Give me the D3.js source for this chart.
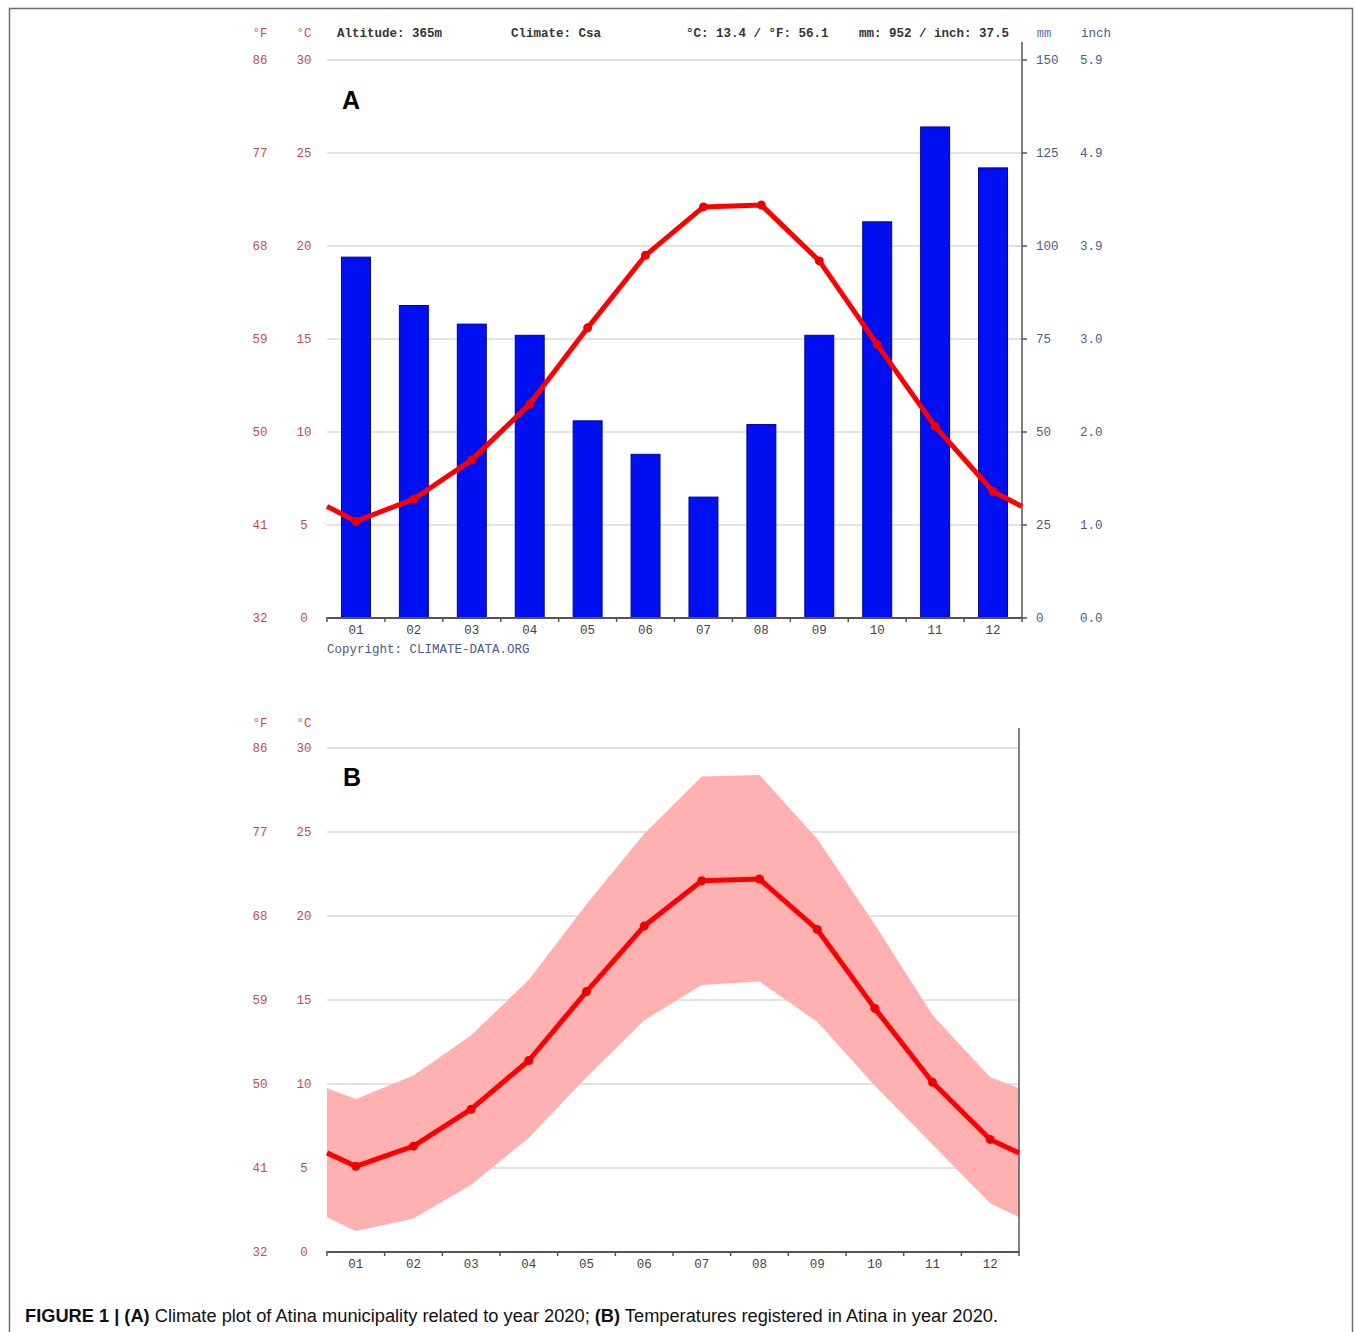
<!DOCTYPE html>
<html>
<head>
<meta charset="utf-8">
<script src="https://cdn.jsdelivr.net/npm/d3@7"></script>
<style>
  body { margin: 0; background: #fff; }
  svg { display: block; }
  .mono { font-family: "Liberation Mono", "DejaVu Sans Mono", monospace; }
</style>
</head>
<body>
<div id="chart"></div>
<script>
// ---- data ----
const months = ["01", "02", "03", "04", "05", "06", "07", "08", "09", "10", "11", "12"];
const precipMm = [97, 84, 79, 76, 53, 44, 32.5, 52, 76, 106.5, 132, 121];
const tempMeanA = [5.2, 6.4, 8.5, 11.5, 15.6, 19.5, 22.1, 22.2, 19.2, 14.7, 10.3, 6.8];
const tempMeanB = [5.1, 6.3, 8.5, 11.4, 15.5, 19.4, 22.1, 22.2, 19.2, 14.5, 10.1, 6.7];
const tempMaxB = [9.1, 10.5, 12.9, 16.2, 20.7, 24.9, 28.3, 28.4, 24.6, 19.5, 14.1, 10.4];
const tempMinB = [1.25, 2.0, 4.0, 6.8, 10.4, 13.8, 15.9, 16.1, 13.7, 9.9, 6.4, 2.9];
const tempTicks = [0, 5, 10, 15, 20, 25, 30];
const precipTicks = [0, 25, 50, 75, 100, 125, 150];
const headerItems = ["Altitude: 365m", "Climate: Csa", "°C: 13.4 / °F: 56.1", "mm: 952 / inch: 37.5"];
const caption = [
  { t: "FIGURE 1 | (A)", b: true },
  { t: " Climate plot of Atina municipality related to year 2020; ", b: false },
  { t: "(B)", b: true },
  { t: " Temperatures registered in Atina in year 2020.", b: false }
];

const W = 1355, H = 1332;
const tempColor = "#c84b4b";
const blueText = "#4a5a8c";
const gridColor = "#dadada";

const svg = d3.select('#chart').append('svg')
  .attr('width', W).attr('height', H)
  .attr('viewBox', `0 0 ${W} ${H}`);

// outer frame
svg.append('rect')
  .attr('x', 9.5).attr('y', 8.5)
  .attr('width', 1343).attr('height', 1340)
  .attr('fill', 'none').attr('stroke', '#6e6e6e').attr('stroke-width', 1.5);

const toF = c => Math.round(c * 9 / 5 + 32);
const toInch = d3.format('.1f');

// wraps the series so the line runs to both edges (Dec/Jan midpoint)
function withEdges(values, x) {
  const edge = (values[0] + values[values.length - 1]) / 2;
  const pts = [{ px: x.range()[0], v: edge }];
  values.forEach((v, i) => pts.push({ px: x(months[i]) + x.bandwidth() / 2, v: v }));
  pts.push({ px: x.range()[1], v: edge });
  return pts;
}

function drawTempAxis(g, y, x) {
  g.selectAll('.grid')
    .data(tempTicks)
    .enter().append('line')
    .attr('x1', x.range()[0]).attr('x2', x.range()[1])
    .attr('y1', d => y(d)).attr('y2', d => y(d))
    .attr('stroke', d => d === 0 ? 'none' : gridColor)
    .attr('stroke-width', 1.5);

  g.selectAll('.tc')
    .data(tempTicks)
    .enter().append('text')
    .attr('class', 'mono')
    .attr('x', 304).attr('y', d => y(d) + 4)
    .attr('text-anchor', 'middle')
    .attr('font-size', 12.5).attr('fill', tempColor)
    .text(d => d);

  g.selectAll('.tf')
    .data(tempTicks)
    .enter().append('text')
    .attr('class', 'mono')
    .attr('x', 260).attr('y', d => y(d) + 4)
    .attr('text-anchor', 'middle')
    .attr('font-size', 12.5).attr('fill', tempColor)
    .text(d => toF(d));
}

function drawXAxis(g, x, y0) {
  const r = x.range();
  g.append('line')
    .attr('x1', r[0]).attr('x2', r[1])
    .attr('y1', y0).attr('y2', y0)
    .attr('stroke', '#555').attr('stroke-width', 2);

  const bounds = months.map(m => x(m)).concat([r[1]]);
  g.selectAll('.xt')
    .data(bounds)
    .enter().append('line')
    .attr('x1', d => d).attr('x2', d => d)
    .attr('y1', y0 - 1).attr('y2', y0 + 4)
    .attr('stroke', '#555').attr('stroke-width', 1.5);

  g.selectAll('.xl')
    .data(months)
    .enter().append('text')
    .attr('class', 'mono')
    .attr('x', d => x(d) + x.bandwidth() / 2)
    .attr('y', y0 + 16)
    .attr('text-anchor', 'middle')
    .attr('font-size', 12.5).attr('fill', '#444')
    .text(d => d);
}

function drawTempLine(g, pts, y) {
  const line = d3.line().x(d => d.px).y(d => y(d.v));
  g.append('path')
    .datum(pts)
    .attr('d', line)
    .attr('fill', 'none')
    .attr('stroke', '#ff0000')
    .attr('stroke-width', 5)
    .attr('stroke-linejoin', 'round');

  g.selectAll('.dot')
    .data(pts.slice(1, -1))
    .enter().append('circle')
    .attr('cx', d => d.px).attr('cy', d => y(d.v))
    .attr('r', 4.5)
    .attr('fill', '#ee0000');
}

// ================= Chart A =================
const gA = svg.append('g');
const xA = d3.scaleBand().domain(months).range([327, 1022]);
const yA = d3.scaleLinear().domain([0, 30]).range([618, 60]);
const yP = d3.scaleLinear().domain([0, 150]).range([618, 60]);

// header
gA.append('text').attr('class', 'mono').attr('x', 260).attr('y', 37)
  .attr('text-anchor', 'middle').attr('font-size', 12.5).attr('fill', tempColor).text('°F');
gA.append('text').attr('class', 'mono').attr('x', 304).attr('y', 37)
  .attr('text-anchor', 'middle').attr('font-size', 12.5).attr('fill', tempColor).text('°C');
const headerX = [337, 511, 686, 859];
gA.selectAll('.hdr')
  .data(headerItems)
  .enter().append('text')
  .attr('class', 'mono')
  .attr('x', (d, i) => headerX[i]).attr('y', 37)
  .attr('font-size', 12.5).attr('font-weight', 'bold').attr('fill', '#333')
  .text(d => d);
gA.append('text').attr('class', 'mono').attr('x', 1044).attr('y', 37)
  .attr('text-anchor', 'middle').attr('font-size', 12).attr('fill', '#5a6cc8').text('mm');
gA.append('text').attr('class', 'mono').attr('x', 1096).attr('y', 37)
  .attr('text-anchor', 'middle').attr('font-size', 12.5).attr('fill', blueText).text('inch');

drawTempAxis(gA, yA, xA);

// bars
const barW = xA.bandwidth() * 0.5;
gA.selectAll('.bar')
  .data(precipMm)
  .enter().append('rect')
  .attr('x', (d, i) => xA(months[i]) + (xA.bandwidth() - barW) / 2)
  .attr('y', d => yP(d))
  .attr('width', barW)
  .attr('height', d => yP(0) - yP(d))
  .attr('fill', '#0010f0')
  .attr('stroke', '#0000a0')
  .attr('stroke-width', 1);

// right precipitation axis
gA.append('line')
  .attr('x1', 1022).attr('x2', 1022).attr('y1', 42).attr('y2', 618)
  .attr('stroke', '#555').attr('stroke-width', 1.5);
gA.selectAll('.pt')
  .data(precipTicks)
  .enter().append('line')
  .attr('x1', 1022).attr('x2', 1027)
  .attr('y1', d => yP(d)).attr('y2', d => yP(d))
  .attr('stroke', '#555').attr('stroke-width', 1.5);
gA.selectAll('.pmm')
  .data(precipTicks)
  .enter().append('text')
  .attr('class', 'mono')
  .attr('x', 1036).attr('y', d => yP(d) + 4)
  .attr('font-size', 12.5).attr('fill', blueText)
  .text(d => d);
gA.selectAll('.pin')
  .data(precipTicks)
  .enter().append('text')
  .attr('class', 'mono')
  .attr('x', 1080).attr('y', d => yP(d) + 4)
  .attr('font-size', 12.5).attr('fill', blueText)
  .text(d => toInch(d / 25.4));

drawXAxis(gA, xA, 618);
drawTempLine(gA, withEdges(tempMeanA, xA), yA);

gA.append('text').attr('class', 'mono')
  .attr('x', 327).attr('y', 653)
  .attr('font-size', 12.5).attr('fill', blueText)
  .text('Copyright: CLIMATE-DATA.ORG');

gA.append('text')
  .attr('x', 342).attr('y', 109)
  .attr('font-family', 'Liberation Sans, Arial, sans-serif')
  .attr('font-size', 25).attr('font-weight', 'bold')
  .text('A');

// ================= Chart B =================
const gB = svg.append('g');
const xB = d3.scaleBand().domain(months).range([327, 1019]);
const yB = d3.scaleLinear().domain([0, 30]).range([1252, 748]);

gB.append('text').attr('class', 'mono').attr('x', 260).attr('y', 727)
  .attr('text-anchor', 'middle').attr('font-size', 12.5).attr('fill', tempColor).text('°F');
gB.append('text').attr('class', 'mono').attr('x', 304).attr('y', 727)
  .attr('text-anchor', 'middle').attr('font-size', 12.5).attr('fill', tempColor).text('°C');

drawTempAxis(gB, yB, xB);

// min/max band
const upper = withEdges(tempMaxB, xB);
const lower = withEdges(tempMinB, xB);
const bandPts = upper.map((d, i) => ({ px: d.px, hi: d.v, lo: lower[i].v }));
gB.append('path')
  .datum(bandPts)
  .attr('d', d3.area().x(d => d.px).y0(d => yB(d.lo)).y1(d => yB(d.hi)))
  .attr('fill', '#ffb0b0');

gB.append('line')
  .attr('x1', 1019).attr('x2', 1019).attr('y1', 728).attr('y2', 1252)
  .attr('stroke', '#555').attr('stroke-width', 1.5);

drawXAxis(gB, xB, 1252);
drawTempLine(gB, withEdges(tempMeanB, xB), yB);

gB.append('text')
  .attr('x', 343).attr('y', 786)
  .attr('font-family', 'Liberation Sans, Arial, sans-serif')
  .attr('font-size', 25).attr('font-weight', 'bold')
  .text('B');

// ================= Caption =================
const cap = svg.append('text')
  .attr('x', 25).attr('y', 1322)
  .attr('font-family', 'Liberation Sans, Arial, sans-serif')
  .attr('font-size', 18).attr('fill', '#111')
  .attr('textLength', 973).attr('lengthAdjust', 'spacingAndGlyphs');
cap.selectAll('tspan')
  .data(caption)
  .enter().append('tspan')
  .attr('font-weight', d => d.b ? 'bold' : 'normal')
  .text(d => d.t);
</script>
</body>
</html>
